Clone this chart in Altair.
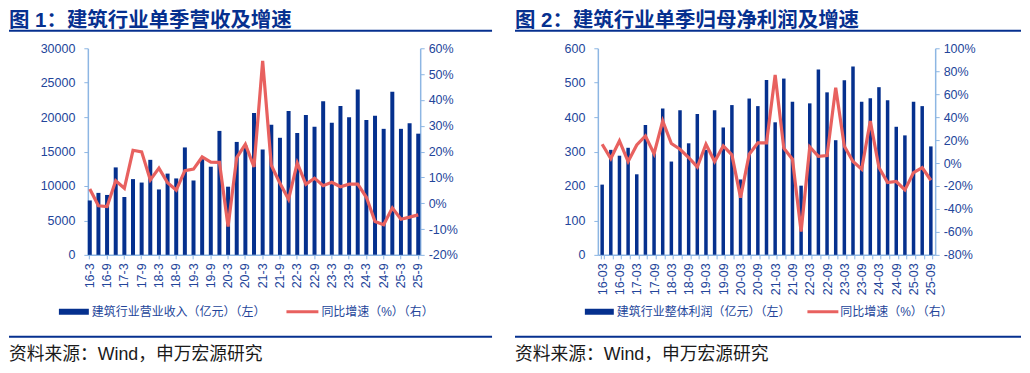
import altair as alt
import pandas as pd

# ---------------- data ----------------
quarters_a = ["16-3", "16-6", "16-9", "16-12", "17-3", "17-6", "17-9", "17-12",
              "18-3", "18-6", "18-9", "18-12", "19-3", "19-6", "19-9", "19-12",
              "20-3", "20-6", "20-9", "20-12", "21-3", "21-6", "21-9", "21-12",
              "22-3", "22-6", "22-9", "22-12", "23-3", "23-6", "23-9", "23-12",
              "24-3", "24-6", "24-9", "24-12", "25-3", "25-6", "25-9"]
quarters_b = ["16-03", "16-06", "16-09", "16-12", "17-03", "17-06", "17-09", "17-12",
              "18-03", "18-06", "18-09", "18-12", "19-03", "19-06", "19-09", "19-12",
              "20-03", "20-06", "20-09", "20-12", "21-03", "21-06", "21-09", "21-12",
              "22-03", "22-06", "22-09", "22-12", "23-03", "23-06", "23-09", "23-12",
              "24-03", "24-06", "24-09", "24-12", "25-03", "25-06", "25-09"]

revenue = [7900, 9000, 8700, 12700, 8400, 11000, 10500, 13800, 9500, 11800,
           11100, 15600, 10800, 13900, 12800, 18000, 9900, 16400, 15900, 20600,
           15300, 18900, 17000, 20900, 17700, 20300, 18600, 22300, 19200, 21600,
           20000, 24000, 19600, 20200, 18300, 23700, 18300, 19100, 17600]
revenue_yoy = [5.5, -1.0, -1.3, 8.7, 5.8, 20.5, 19.9, 9.0, 13.6, 7.9,
               5.1, 12.6, 13.2, 17.9, 15.9, 15.8, -9.0, 17.7, 22.8, 14.1,
               55.1, 14.7, 7.7, 1.5, 15.6, 7.3, 9.7, 6.8, 8.1, 6.4,
               7.4, 7.4, 2.3, -7.1, -8.3, -1.8, -6.2, -5.4, -4.5]

profit = [204, 305, 288, 311, 234, 377, 295, 425, 271, 420,
          324, 409, 305, 420, 370, 435, 219, 454, 432, 508,
          385, 512, 445, 201, 440, 538, 472, 333, 507, 547,
          445, 455, 487, 449, 372, 347, 445, 432, 315]
profit_yoy = [16.4, 3.9, 19.3, 1.3, 15.8, 23.6, 8.2, 36.7, 17.0, 12.0,
              4.8, -3.4, 16.4, 1.3, 14.9, 7.1, -30.1, 7.7, 17.5, 17.5,
              76.7, 12.9, 3.3, -59.7, 14.0, 5.9, 6.5, 65.7, 14.6, 1.3,
              -5.4, 36.7, -3.9, -17.0, -16.1, -23.4, -8.3, -3.9, -15.0]

title_a = "图 1：建筑行业单季营收及增速"
title_b = "图 2：建筑行业单季归母净利润及增速"
legend_bar_a = "建筑行业营业收入（亿元）（左）"
legend_bar_b = "建筑行业整体利润（亿元）（左）"
legend_line = "同比增速（%）（右）"
source = "资料来源：Wind，申万宏源研究"

left_ticks_a = [0, 5000, 10000, 15000, 20000, 25000, 30000]
right_ticks_a = [-20, -10, 0, 10, 20, 30, 40, 50, 60]
left_ticks_b = [0, 100, 200, 300, 400, 500, 600]
right_ticks_b = [-80, -60, -40, -20, 0, 20, 40, 60, 80, 100]

# ---------------- style ----------------
NAVY = "#06308f"
BAR = "#05308e"
LINE = "#e8615f"
AXIS = "#8db6e3"
LABEL = "#23459a"
MIX = "Liberation Sans, Noto Sans CJK SC"
LAT = "Liberation Sans"


def one(v):
    return alt.Data(values=[{"k": v}])


def panel(cats, bars, yoy, lt, rt, title, leg_bar, width, left_x, right_x,
          pin, pout, every_tick, bar_size, leg_pos):
    df = pd.DataFrame({"q": cats, "v": bars, "g": yoy})
    base = alt.Chart(df)
    if every_tick:
        xaxis = alt.Axis(labelAngle=270, tickBand="extent",
                         labelExpr="test(/-(03|09)$/, datum.value) ? datum.value : ''",
                         title=None)
    else:
        xaxis = alt.Axis(labelAngle=270,
                         values=[c for c in cats if c.endswith("-3") or c.endswith("-9")],
                         title=None)
    x = alt.X("q:N", sort=cats, scale=alt.Scale(paddingInner=pin, paddingOuter=pout), axis=xaxis)
    bar = base.mark_bar(color=BAR, size=bar_size).encode(
        x=x,
        y=alt.Y("v:Q", scale=alt.Scale(domain=[lt[0], lt[-1]], nice=False),
                axis=alt.Axis(values=lt, orient="left", title=None, labelPadding=9, format="d")),
    )
    line = base.mark_line(color=LINE, strokeWidth=3.2, strokeJoin="miter").encode(
        x=x,
        y=alt.Y("g:Q", scale=alt.Scale(domain=[rt[0], rt[-1]], nice=False),
                axis=alt.Axis(values=rt, orient="right", title=None, labelPadding=4,
                              labelExpr="datum.value + '%'")),
    )
    spacer = alt.Chart(one(0)).mark_rule(strokeOpacity=0, strokeWidth=1).encode(
        x=alt.value(left_x), x2=alt.value(left_x + 20), y=alt.value(-39.5))
    ttl = alt.Chart(one(title)).mark_text(
        align="left", baseline="middle", font=MIX, fontSize=20.5, fontWeight="bold", color=NAVY
    ).encode(x=alt.value(left_x), y=alt.value(-27), text="k:N")
    uline = alt.Chart(one(0)).mark_rule(color=NAVY, strokeWidth=2).encode(
        x=alt.value(left_x), x2=alt.value(right_x), y=alt.value(-17.5))
    bline = alt.Chart(one(0)).mark_rule(color=NAVY, strokeWidth=2).encode(
        x=alt.value(left_x), x2=alt.value(right_x), y=alt.value(289))
    src = alt.Chart(one(source)).mark_text(
        align="left", baseline="middle", font=MIX, fontSize=17.8, color="#1a1a1a"
    ).encode(x=alt.value(left_x), y=alt.value(307), text="k:N")
    bx0, bx1, tx1, lx0, lx1, tx2 = leg_pos
    sw1 = alt.Chart(one(0)).mark_rect(color=BAR).encode(
        x=alt.value(bx0), x2=alt.value(bx1), y=alt.value(261), y2=alt.value(267))
    lt1 = alt.Chart(one(leg_bar)).mark_text(
        align="left", baseline="middle", font=MIX, fontSize=12, color=LABEL
    ).encode(x=alt.value(tx1), y=alt.value(264), text="k:N")
    sw2 = alt.Chart(one(0)).mark_rule(color=LINE, strokeWidth=3).encode(
        x=alt.value(lx0), x2=alt.value(lx1), y=alt.value(264))
    lt2 = alt.Chart(one(legend_line)).mark_text(
        align="left", baseline="middle", font=MIX, fontSize=12, color=LABEL
    ).encode(x=alt.value(tx2), y=alt.value(264), text="k:N")
    return alt.layer(bar, line, spacer, ttl, uline, bline, src, sw1, lt1, sw2, lt2).resolve_scale(
        y="independent").properties(width=width, height=207)


pa = panel(quarters_a, revenue, revenue_yoy, left_ticks_a, right_ticks_a, title_a,
           legend_bar_a, 333, -79, 405, 0.55, 0, False, 4,
           (-29, 1, 4, 199, 231, 234))
pb = panel(quarters_b, profit, profit_yoy, left_ticks_b, right_ticks_b, title_b,
           legend_bar_b, 338, -83, 424, 0.6, 0.3, True, 3.5,
           (-13, 16, 19, 210, 241, 243))

chart = alt.hconcat(pa, pb, spacing=21).properties(padding=0).configure_view(
    stroke=None
).configure_axis(
    domainColor=AXIS, domainWidth=1.5, tickColor=AXIS, tickSize=4, grid=False,
    labelColor=LABEL, labelFont=LAT, labelFontSize=12.5, labelPadding=4
)

chart.save("out.html", embed_options={"renderer": "svg", "actions": False})
